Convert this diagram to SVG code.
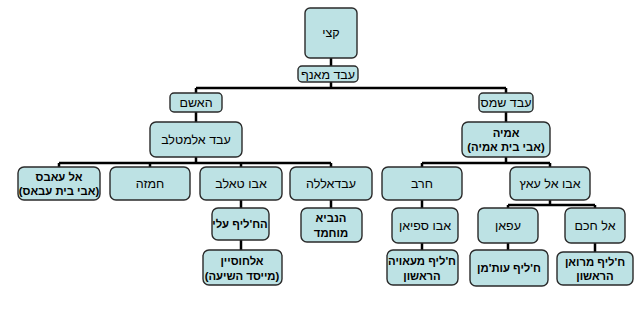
<svg xmlns="http://www.w3.org/2000/svg" width="640" height="309" viewBox="0 0 640 309">
<style>
.b{fill:#bde2e4;stroke:#2a2a2a;stroke-width:1.4}
text{font-family:"Liberation Sans","DejaVu Sans",Arial,sans-serif;font-size:12.5px;fill:#000;text-anchor:middle;direction:rtl;unicode-bidi:embed}
.bd{font-weight:bold;font-size:11.3px}
.c{fill:none;stroke:#000;stroke-width:2.5}
</style>
<rect width="640" height="309" fill="#fff"/>
<g id="connectors" class="c">
<path d="M331 58V66M331 82V88M196 88H506M196 88V93M506 88V93"/>
<path d="M196 112V122M506 112V122"/>
<path d="M196 157V163M59 163H331M59 163V167M150 163V167M241 163V167M331 163V167"/>
<path d="M506 157V163M422 163H550M422 163V167M550 163V167"/>
<path d="M241 200V208M241 240V250M331 200V208M422 200V208M422 243V250"/>
<path d="M550 200V205M508 205H595M508 205V208M595 205V208M508 243V250M595 243V252"/>
</g>
<g id="qusai"><rect class="b" x="305" y="8" width="52" height="50" rx="5"/><text x="331" y="37">קצי</text></g>
<g id="abd-manaf"><rect class="b" x="298" y="66" width="60" height="16" rx="4"/><text x="328" y="78.5">עבד מאנף</text></g>
<g id="hashim"><rect class="b" x="170" y="93" width="52" height="19" rx="4"/><text x="196" y="107">האשם</text></g>
<g id="abd-shams"><rect class="b" x="479" y="93" width="54" height="19" rx="4"/><text x="506" y="107">עבד שמס</text></g>
<g id="abd-almutalib"><rect class="b" x="150" y="122" width="92" height="35" rx="6"/><text x="196" y="144">עבד אלמטלב</text></g>
<g id="umayya"><rect class="b" x="462" y="122" width="88" height="35" rx="6"/><text class="bd" x="506" y="137">אמיה</text><text class="bd" x="506" y="151">(אבי בית אמיה)</text></g>
<g id="abbas"><rect class="b" x="18" y="167" width="82" height="33" rx="6"/><text class="bd" x="59" y="181">אל עאבס</text><text class="bd" x="59" y="195">(אבי בית עבאס)</text></g>
<g id="hamza"><rect class="b" x="110" y="167" width="80" height="33" rx="6"/><text x="150" y="188">חמזה</text></g>
<g id="abu-talib"><rect class="b" x="200" y="167" width="82" height="33" rx="6"/><text x="241" y="188">אבו טאלב</text></g>
<g id="abdallah"><rect class="b" x="290" y="167" width="82" height="33" rx="6"/><text x="331" y="188">עבדאללה</text></g>
<g id="harb"><rect class="b" x="382" y="167" width="80" height="33" rx="6"/><text x="422" y="188">חרב</text></g>
<g id="abu-alas"><rect class="b" x="510" y="167" width="80" height="33" rx="6"/><text x="550" y="188">אבו אל עאץ</text></g>
<g id="ali"><rect class="b" x="212" y="208" width="57" height="32" rx="6"/><text class="bd" x="240" y="228">הח'ליף עלי</text></g>
<g id="husayn"><rect class="b" x="203" y="250" width="79" height="35" rx="6"/><text class="bd" x="242" y="265">אלחוסיין</text><text class="bd" x="242" y="280">(מייסד השיעה)</text></g>
<g id="muhammad"><rect class="b" x="301" y="208" width="61" height="34" rx="6"/><text class="bd" x="331" y="222">הנביא</text><text class="bd" x="331" y="237">מוחמד</text></g>
<g id="abu-sufyan"><rect class="b" x="392" y="208" width="66" height="35" rx="6"/><text x="425" y="230">אבו ספיאן</text></g>
<g id="muawiya"><rect class="b" x="387" y="250" width="71" height="35" rx="6"/><text class="bd" x="422" y="265">ח'ליף מעאויה</text><text class="bd" x="422" y="280">הראשון</text></g>
<g id="affan"><rect class="b" x="478" y="208" width="60" height="35" rx="6"/><text x="508" y="230">עפאן</text></g>
<g id="uthman"><rect class="b" x="470" y="250" width="78" height="36" rx="6"/><text class="bd" x="509" y="272">ח'ליף עות'מן</text></g>
<g id="al-hakam"><rect class="b" x="565" y="208" width="60" height="35" rx="6"/><text x="595" y="230">אל חכם</text></g>
<g id="marwan"><rect class="b" x="557" y="252" width="76" height="33" rx="6"/><text class="bd" x="595" y="266">ח'ליף מרואן</text><text class="bd" x="595" y="280">הראשון</text></g>
</svg>
